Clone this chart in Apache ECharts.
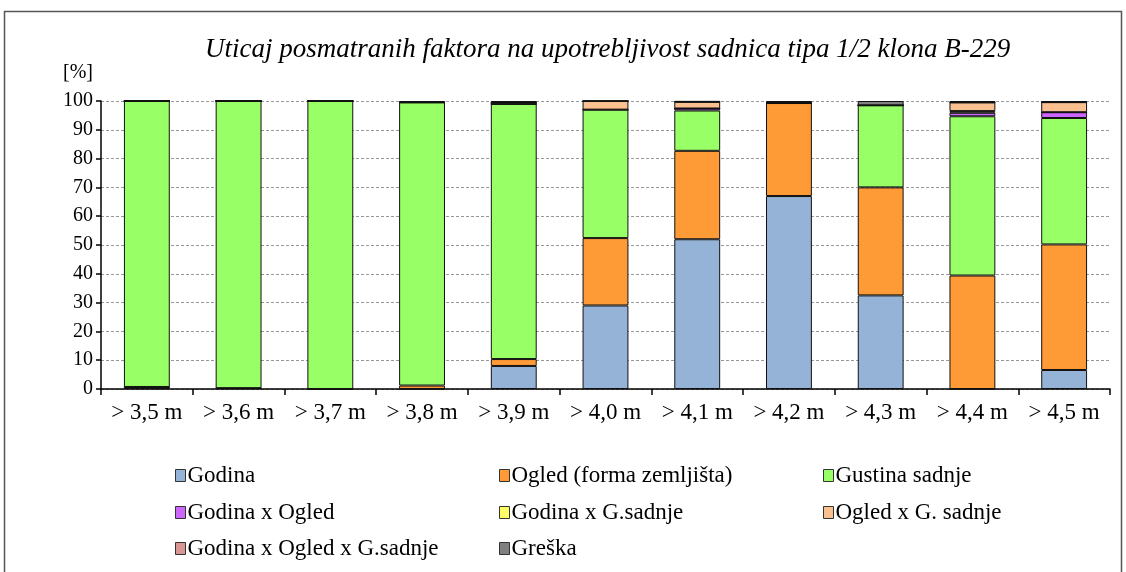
<!DOCTYPE html>
<html>
<head>
<meta charset="utf-8">
<script src="https://cdn.jsdelivr.net/npm/echarts@6/dist/echarts.min.js"></script>
<style>
  html, body { margin: 0; padding: 0; background: #fff; }
  #chart { width: 1126px; height: 572px; }
</style>
</head>
<body>
<div id="chart"></div>
<script>
// Height classes of the seedlings
const categories = ['> 3,5 m', '> 3,6 m', '> 3,7 m', '> 3,8 m', '> 3,9 m', '> 4,0 m',
                    '> 4,1 m', '> 4,2 m', '> 4,3 m', '> 4,4 m', '> 4,5 m'];

// Share of each factor in the total variance [%]
const godina        = [0.7, 0.3, 0, 0, 8.0, 29.0, 52.0, 67.0, 32.5, 0, 6.6];
const ogled         = [0, 0, 0, 1.2, 2.4, 23.4, 30.7, 32.3, 37.5, 39.4, 43.6];
const gustina       = [99.3, 99.7, 100, 98.3, 88.6, 44.6, 14.0, 0, 28.5, 55.3, 43.9];
const godinaOgled   = [0, 0, 0, 0, 0, 0, 0.7, 0, 0, 1.2, 2.0];
const godinaGs      = [0, 0, 0, 0, 0, 0, 0, 0, 0, 0.6, 0];
const ogledGs       = [0, 0, 0, 0, 0.5, 3.0, 2.3, 0, 0, 3.0, 3.5];
const godinaOgledGs = [0, 0, 0, 0, 0, 0, 0, 0, 0, 0, 0];
const greska        = [0, 0, 0, 0.5, 0.5, 0, 0.3, 0.7, 1.5, 0.5, 0.4];

const yTicks = [0, 10, 20, 30, 40, 50, 60, 70, 80, 90, 100];

const seriesDefs = [
  { name: 'Godina', data: godina, color: '#95B3D7' },
  { name: 'Ogled (forma zemljišta)', data: ogled, color: '#FF9B37' },
  { name: 'Gustina sadnje', data: gustina, color: '#99FF66' },
  { name: 'Godina x Ogled', data: godinaOgled, color: '#CC66FF' },
  { name: 'Godina x G.sadnje', data: godinaGs, color: '#FFFF66' },
  { name: 'Ogled x G. sadnje', data: ogledGs, color: '#FAC090' },
  { name: 'Godina x Ogled x G.sadnje', data: godinaOgledGs, color: '#D99694' },
  { name: 'Greška', data: greska, color: '#808080' }
];

const serif = '"Liberation Serif", "DejaVu Serif", serif';

// legend placement: three columns, three rows
const colX = [170, 494, 818];
const rowY = [459, 496, 532];
const legends = seriesDefs.map((s, i) => ({
  data: [s.name],
  left: colX[i % 3],
  top: rowY[Math.floor(i / 3)],
  orient: 'horizontal',
  itemWidth: 10,
  itemHeight: 12,
  itemGap: 0,
  icon: 'rect',
  selectedMode: false,
  itemStyle: { borderColor: '#333', borderWidth: 1 },
  textStyle: { fontFamily: serif, fontSize: 23, color: '#000', padding: [0, 0, 0, -3] }
}));

const chart = echarts.init(document.getElementById('chart'));
chart.setOption({
  animation: false,
  backgroundColor: '#fff',
  title: {
    text: 'Uticaj posmatranih faktora na upotrebljivost sadnica tipa 1/2 klona B-229',
    left: 200,
    top: 31,
    textStyle: { fontFamily: serif, fontStyle: 'italic', fontWeight: 'normal', fontSize: 27, color: '#000' }
  },
  graphic: [{
    type: 'rect',
    shape: { x: 4.5, y: 11.5, width: 1117, height: 580 },
    style: { fill: 'none', stroke: '#555', lineWidth: 1.5 },
    silent: true
  }],
  legend: legends,
  grid: { left: 101, right: 16, top: 101, bottom: 183, containLabel: false },
  xAxis: {
    type: 'category',
    data: categories,
    axisLine: { lineStyle: { color: '#000', width: 1.5 } },
    axisTick: { show: true, length: 6, lineStyle: { color: '#000', width: 1.5 } },
    axisLabel: { fontFamily: serif, fontSize: 23, color: '#000', margin: 12, interval: 0, hideOverlap: false }
  },
  yAxis: {
    type: 'value',
    min: 0,
    max: 100,
    interval: 10,
    name: '[%]',
    nameLocation: 'end',
    nameGap: 18,
    nameTextStyle: { fontFamily: serif, fontSize: 20, color: '#000', align: 'center', padding: [0, 0, 0, -46] },
    axisLine: { show: true, lineStyle: { color: '#000', width: 1.5 } },
    axisTick: { show: true, length: 5, lineStyle: { color: '#000', width: 1.5 } },
    axisLabel: {
      fontFamily: serif, fontSize: 20, color: '#000', margin: 8,
      formatter: v => (yTicks.includes(v) ? String(v) : '')
    },
    splitLine: { show: true, lineStyle: { color: '#999', type: [3, 2], width: 1 } }
  },
  series: seriesDefs.map(s => ({
    name: s.name,
    type: 'bar',
    stack: 'total',
    data: s.data,
    barWidth: '50%',
    itemStyle: { color: s.color, borderColor: '#111', borderWidth: 1 },
    emphasis: { disabled: true }
  }))
});
</script>
</body>
</html>
